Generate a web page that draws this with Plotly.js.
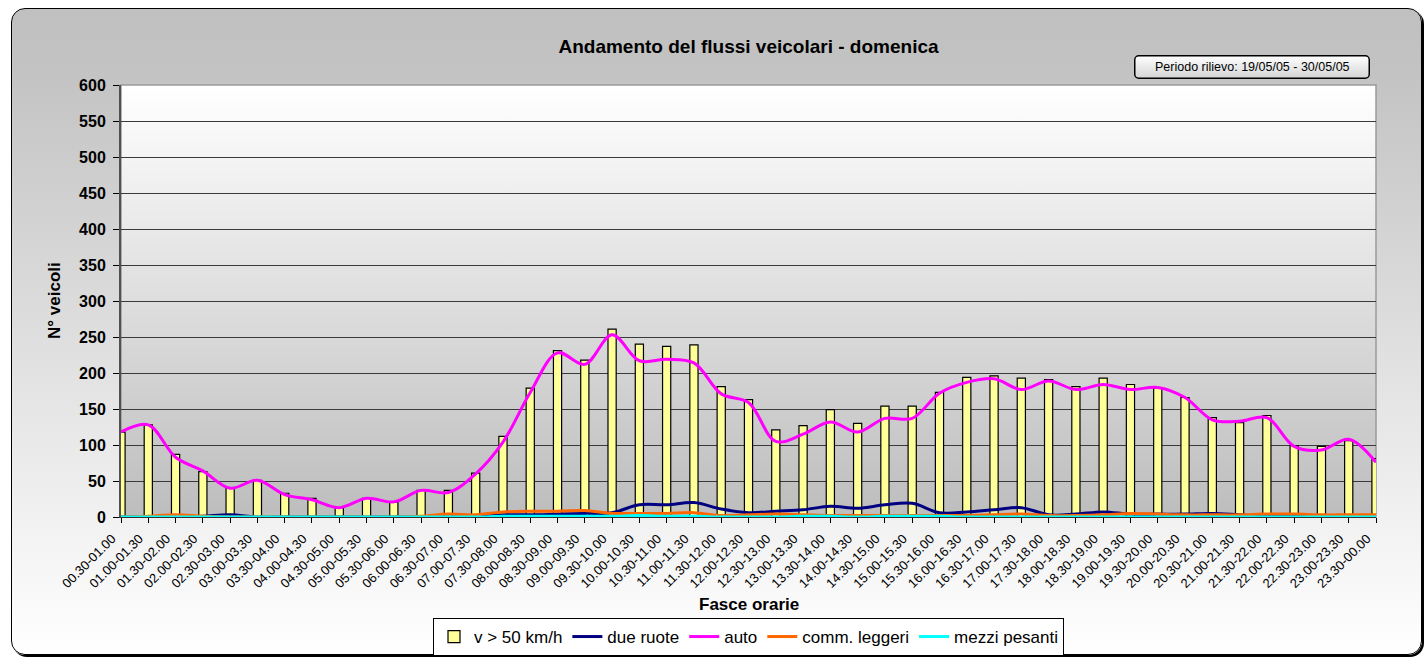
<!DOCTYPE html>
<html>
<head>
<meta charset="utf-8">
<script src="https://cdn.plot.ly/plotly-3.0.1.min.js"></script>
<style>
  html, body { margin: 0; padding: 0; background: #ffffff; }
  #wrap { position: relative; width: 1428px; height: 657px; overflow: hidden; }
  #frame {
    position: absolute; left: 11px; top: 8px; width: 1409px; height: 645px;
    border: 1px solid #000; border-radius: 14px;
    box-shadow: 2px 2px 0 #000;
    background: linear-gradient(to bottom, #c0c0c0 0%, #c2c2c2 8%, #ffffff 100%);
  }
  #chart { position: absolute; left: 0; top: 0; width: 1428px; height: 657px; }
</style>
</head>
<body>
<div id="wrap">
  <div id="frame"></div>
  <div id="chart"></div>
</div>
<script>
// ---- data ----
const fasceOrarie = [
  "00.30-01.00","01.00-01.30","01.30-02.00","02.00-02.30","02.30-03.00","03.00-03.30",
  "03.30-04.00","04.00-04.30","04.30-05.00","05.00-05.30","05.30-06.00","06.00-06.30",
  "06.30-07.00","07.00-07.30","07.30-08.00","08.00-08.30","08.30-09.00","09.00-09.30",
  "09.30-10.00","10.00-10.30","10.30-11.00","11.00-11.30","11.30-12.00","12.00-12.30",
  "12.30-13.00","13.00-13.30","13.30-14.00","14.00-14.30","14.30-15.00","15.00-15.30",
  "15.30-16.00","16.00-16.30","16.30-17.00","17.00-17.30","17.30-18.00","18.00-18.30",
  "18.30-19.00","19.00-19.30","19.30-20.00","20.00-20.30","20.30-21.00","21.00-21.30",
  "21.30-22.00","22.00-22.30","22.30-23.00","23.00-23.30","23.30-00.00"
];
const velocitaOltre50 = [
  118,128,87,63,40,51,33,26,13,26,21,37,37,61,112,179,231,218,261,240,237,239,181,163,
  121,127,149,130,154,154,173,194,196,193,191,181,193,184,179,166,138,131,141,99,98,106,81
];
const dueRuote = [
  0,0,0,1,3,0,0,0,0,0,0,0,0,1,3,3,4,5,6,17,17,20,11,6,
  8,10,15,12,17,19,6,7,10,13,3,4,7,4,4,4,5,3,1,1,1,1,1
];
const auto = [
  118,128,83,64,40,51,31,24,13,26,21,37,34,60,104,173,228,212,253,217,219,214,171,159,
  105,115,132,118,137,137,172,187,192,177,189,177,184,177,180,166,135,133,138,98,93,108,76
];
const commLeggeri = [
  0,1,3,1,0,0,0,0,0,0,0,1,4,3,7,8,8,9,5,5,5,6,2,3,
  4,3,2,2,2,2,2,2,3,4,2,2,3,5,4,3,3,3,4,4,3,3,3
];
const mezziPesanti = [
  0,0,0,0,0,0,0,0,0,0,0,0,0,0,1,1,1,1,1,2,1,1,0,0,
  0,1,1,0,1,1,1,0,0,0,0,0,0,0,0,0,0,0,0,0,0,0,0
];
const chartTitle = "Andamento del flussi veicolari - domenica";
const periodo = "Periodo rilievo: 19/05/05 - 30/05/05";

// ---- plot ----
const FONT = "Arial, 'Liberation Sans', sans-serif";
const lineTrace = (name, y, color) => ({
  type: "scatter", mode: "lines", name: name, x: fasceOrarie, y: y,
  line: { color: color, width: 3, shape: "spline", smoothing: 1 },
  cliponaxis: false, hoverinfo: "skip"
});

const traces = [
  { type: "bar", name: "v > 50 km/h", x: fasceOrarie, y: velocitaOltre50, width: 0.3,
    marker: { color: "#ffff99", line: { color: "#000000", width: 1.2 } }, hoverinfo: "skip" },
  lineTrace("due ruote", dueRuote, "#000080"),
  lineTrace("auto", auto, "#ff00ff"),
  lineTrace("comm. leggeri", commLeggeri, "#ff6600"),
  lineTrace("mezzi pesanti", mezziPesanti, "#00ffff")
];

const gradSvg = '<svg xmlns="http://www.w3.org/2000/svg" width="100" height="100" preserveAspectRatio="none">' +
  '<defs><linearGradient id="g" x1="0" y1="0" x2="0" y2="1">' +
  '<stop offset="0" stop-color="#ffffff"/><stop offset="1" stop-color="#bdbdbd"/>' +
  '</linearGradient></defs><rect width="100" height="100" fill="url(#g)"/></svg>';
const gradSrc = "data:image/svg+xml;charset=utf-8," + encodeURIComponent(gradSvg);

const boxSvg = '<svg xmlns="http://www.w3.org/2000/svg" width="236" height="24" viewBox="0 0 236 24" preserveAspectRatio="none">' +
  '<defs><linearGradient id="b" x1="0" y1="0" x2="0" y2="1">' +
  '<stop offset="0" stop-color="#ffffff"/><stop offset="1" stop-color="#d4d4d4"/>' +
  '</linearGradient></defs><rect x="0.75" y="0.75" width="234.5" height="22.5" rx="4" ry="4" fill="url(#b)" stroke="#000" stroke-width="1.5"/></svg>';
const boxSrc = "data:image/svg+xml;charset=utf-8," + encodeURIComponent(boxSvg);

const layout = {
  width: 1428, height: 657,
  margin: { l: 121, r: 52, t: 85, b: 140, autoexpand: false },
  paper_bgcolor: "rgba(0,0,0,0)",
  plot_bgcolor: "rgba(0,0,0,0)",
  font: { family: FONT, color: "#000" },
  showlegend: true,
  title: { text: chartTitle, font: { family: FONT, size: 19, weight: "bold", color: "#000" },
           x: 0.5, xref: "paper", xanchor: "center", y: 1 - 46/657, yref: "container", yanchor: "middle" },
  xaxis: {
    type: "category", range: [0, 46], fixedrange: true, automargin: false,
    showgrid: false, zeroline: false,
    showline: true, linecolor: "#303030", linewidth: 1,
    ticks: "outside", ticklen: 5, tickcolor: "#000", tickwidth: 1,
    ticklabelstandoff: 3, ticklabelshift: -9,
    tickangle: -45, tickfont: { family: FONT, size: 13, color: "#000" }
  },
  yaxis: {
    range: [0, 600], dtick: 50, fixedrange: true, automargin: false,
    showgrid: true, gridcolor: "#3a3a3a", gridwidth: 1,
    zeroline: false,
    showline: true, linecolor: "#505050", linewidth: 2,
    ticks: "outside", ticklen: 6, tickcolor: "#000", tickwidth: 1,
    ticklabelstandoff: 4,
    tickfont: { family: FONT, size: 16, weight: "bold", color: "#000" }
  },
  legend: {
    orientation: "h", x: 0.5, xref: "paper", xanchor: "center",
    y: 1 - 618 / 657, yref: "container", yanchor: "top",
    bgcolor: "#ffffff", bordercolor: "#000", borderwidth: 1,
    font: { family: FONT, size: 17, color: "#000" },
    itemclick: false, itemdoubleclick: false, tracegroupgap: 0
  },
  images: [
    { source: gradSrc, xref: "paper", yref: "paper", x: 0, y: 1, sizex: 1, sizey: 1,
      sizing: "stretch", xanchor: "left", yanchor: "top", layer: "below" },
    { source: boxSrc, xref: "paper", yref: "paper",
      x: (1134 - 121) / 1255, y: (517 - 55) / 432, sizex: 236 / 1255, sizey: 24 / 432,
      sizing: "stretch", xanchor: "left", yanchor: "top", layer: "above" }
  ],
  shapes: [{
    type: "rect", xref: "paper", yref: "paper", x0: 0, x1: 1, y0: 0, y1: 1,
    line: { color: "#9a9a9a", width: 1.5 }, fillcolor: "rgba(0,0,0,0)", layer: "below"
  }],
  annotations: [
    { text: "N° veicoli", xref: "paper", yref: "paper", x: (54 - 121) / 1255, y: (517 - 301) / 432,
      xanchor: "center", yanchor: "middle", textangle: -90, showarrow: false,
      font: { family: FONT, size: 17, weight: "bold", color: "#000" } },
    { text: "Fasce orarie", xref: "paper", yref: "paper", x: 0.5, y: (517 - 604) / 432,
      xanchor: "center", yanchor: "middle", showarrow: false,
      font: { family: FONT, size: 17, weight: "bold", color: "#000" } },
    { text: periodo, xref: "paper", yref: "paper", x: (1252 - 121) / 1255, y: (517 - 67) / 432,
      xanchor: "center", yanchor: "middle", showarrow: false,
      font: { family: FONT, size: 12.5, color: "#000" } }
  ]
};

Plotly.newPlot("chart", traces, layout, { displayModeBar: false, staticPlot: true });
</script>
</body>
</html>
